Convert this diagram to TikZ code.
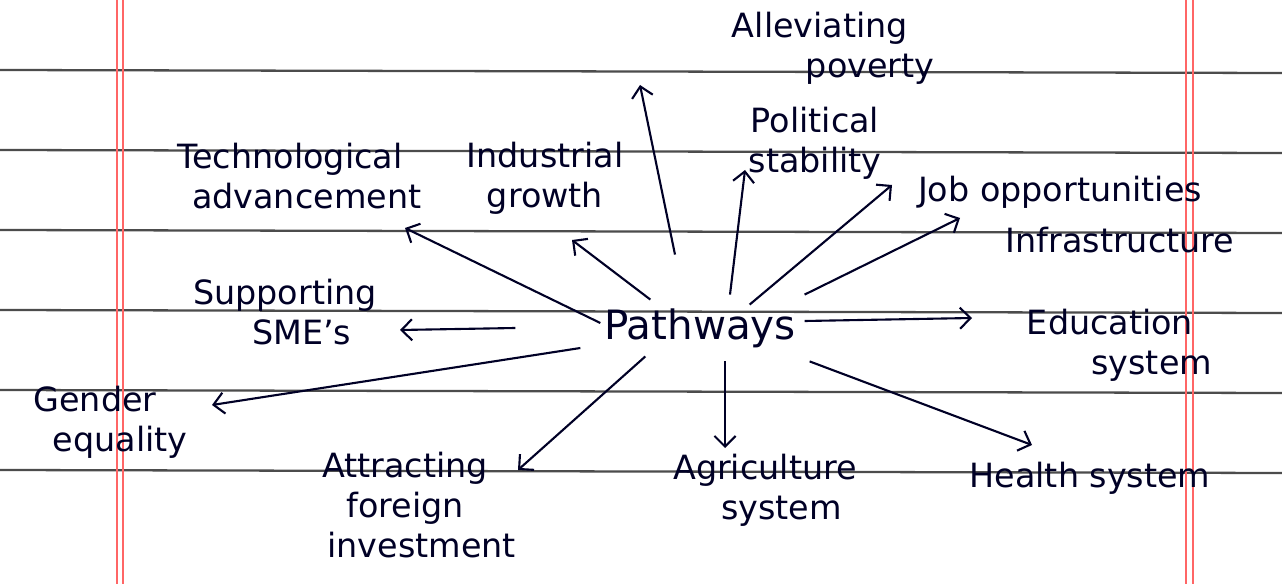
\documentclass[tikz,border=0pt]{standalone}
\usepackage{fontspec}
\setmainfont{DejaVu Sans}
\usetikzlibrary{positioning}
\usetikzlibrary{arrows.meta}

\begin{document}
\begin{tikzpicture}[x=0.02cm,y=-0.02cm,
        ink/.style = {draw=black!85!blue,line width=1.2pt},
        idea/.style = {align=center,text=black!85!blue,inner sep=2pt,
            font=\fontsize{19}{23}\selectfont},
        hub/.style = {idea,font=\fontsize{23}{27}\selectfont},
        branch/.style = {ink,-{Straight Barb[length=6pt]}}]
        % paper
        \useasboundingbox (0,0) rectangle (1282,584);
        \fill[white] (0,0) rectangle (1282,584);
        \foreach \y in {70,150,230,310,390,470}
            \draw[black!70,line width=1.3pt] (0,\y) -- (1282,\y+3);
        \foreach \x in {117,123,1186,1193}
            \draw[red!60,line width=0.6pt] (\x,0) -- (\x,584);
        % centre and ideas
        \node[hub](path) at (700,328) {Pathways};
        \node[idea](pov) at (820,48) {Alleviating\\\hspace*{3em}poverty};
        \node[idea](pol) at (815,143) {Political\\stability};
        \node[idea](tech) at (290,176) {Technological\\\hspace*{1em}advancement};
        \node[idea](ind) at (545,178) {Industrial\\growth};
        \node[idea](job) at (1060,192) {Job opportunities};
        \node[idea](infra) at (1120,240) {Infrastructure};
        \node[idea](edu) at (1110,345) {Education\\\hspace*{2.5em}system};
        \node[idea](sme) at (285,312) {Supporting\\\hspace*{1em}SME's};
        \node[idea](gen) at (95,422) {Gender\\\hspace*{1.5em}equality};
        \node[idea](fdi) at (405,505) {Attracting\\foreign\\\hspace*{1em}investment};
        \node[idea](agr) at (765,490) {Agriculture\\\hspace*{1em}system};
        \node[idea](hea) at (1090,478) {Health system};
        % ends of the arrows
        \coordinate (povend) at (640,85);
        \coordinate (polend) at (745,170);
        \coordinate (techend) at (405,228);
        \coordinate (indend) at (572,240);
        \coordinate (jobend) at (892,185);
        \coordinate (infraend) at (960,218);
        \coordinate (eduend) at (972,318);
        \coordinate (smeend) at (400,330);
        \coordinate (genend) at (212,405);
        \coordinate (fdiend) at (518,470);
        \coordinate (agrend) at (725,448);
        \coordinate (heaend) at (1032,445);
        \draw[branch] (path.north) ++(-25,-50) -- (povend);
        \draw[branch] (path.north) ++(30,-10) -- (polend);
        \draw[branch] (path.north east) ++(-50,0) -- (jobend);
        \draw[branch] (path.north east) ++(5,-10) -- (infraend);
        \draw[branch] (path.east) ++(5,-7) -- (eduend);
        \draw[branch] (path.south east) ++(10,10) -- (heaend);
        \draw[branch] (path.south) ++(25,10) -- (agrend);
        \draw[branch] (path.south west) ++(45,5) -- (fdiend);
        \draw[branch] (path.west) ++(-20,20) -- (genend);
        \draw[branch] (path.west) ++(-85,0) -- (smeend);
        \draw[branch] (path.west) ++(0,-5) -- (techend);
        \draw[branch] (path.north west) ++(50,-5) -- (indend);
\end{tikzpicture}
\end{document}
